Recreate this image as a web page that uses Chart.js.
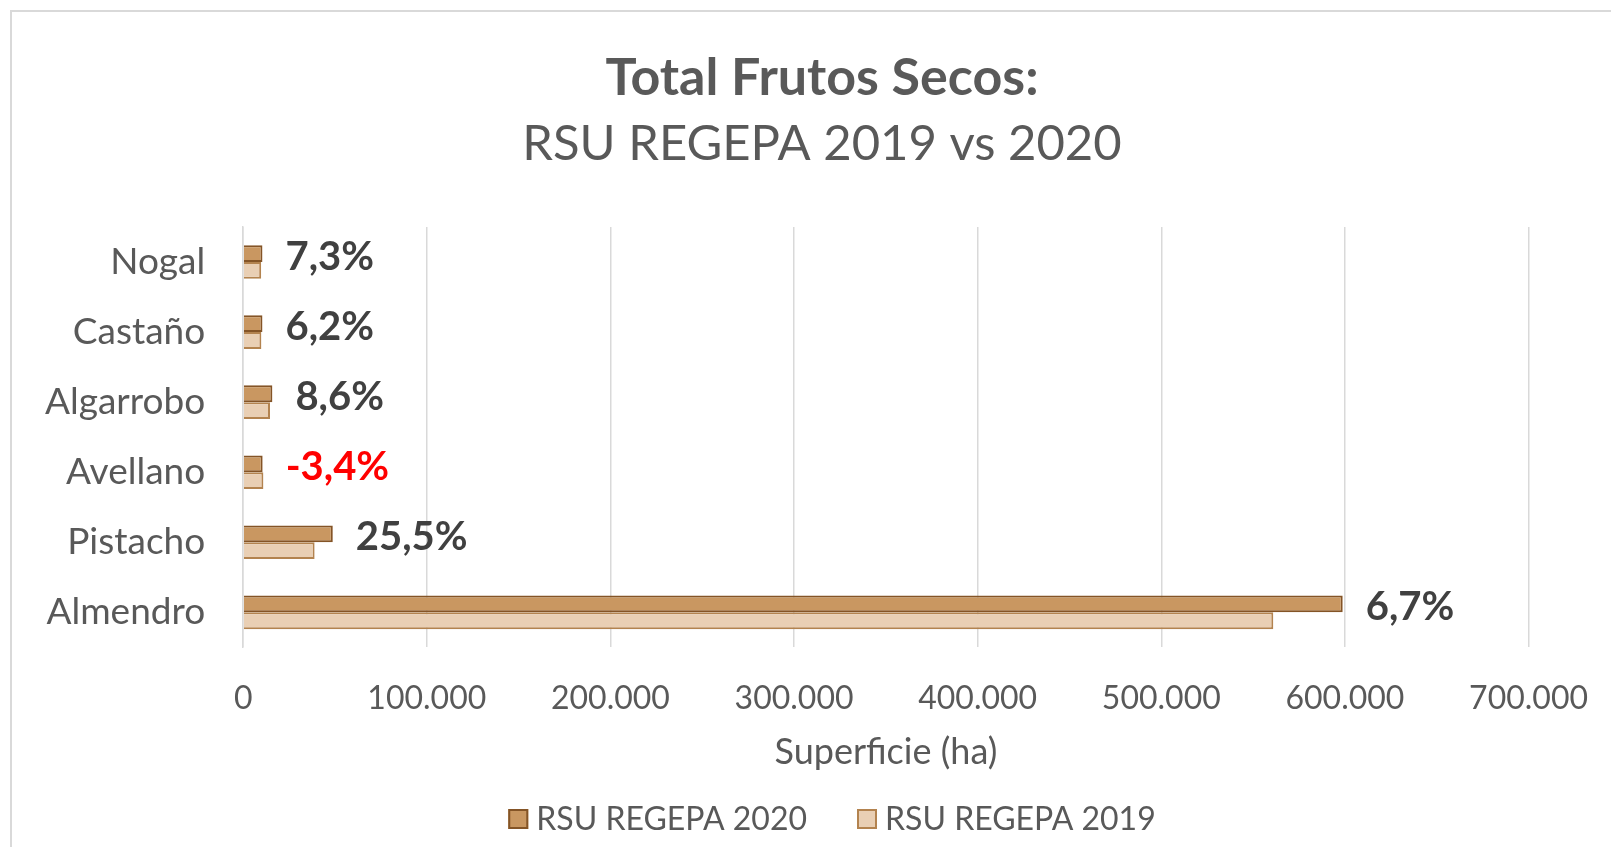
<!DOCTYPE html>
<html>
<head>
<meta charset="utf-8">
<script src="https://cdn.jsdelivr.net/npm/chart.js@4.4.0/dist/chart.umd.min.js"></script>
<style>
    body { margin: 0; background: #ffffff; overflow: hidden; }
    #wrap { position: relative; width: 1611px; height: 847px; }
    #frame { position: absolute; left: 10px; top: 10px; width: 1700px; height: 900px; border: 2px solid #d9d9d9; }
    #chart { position: absolute; left: 0; top: 0; }
</style>
</head>
<body>
<div id="wrap">
    <div id="frame"></div>
    <canvas id="chart" width="1611" height="847"></canvas>
</div>
<script>
// Données
const categories = ['Nogal', 'Castaño', 'Algarrobo', 'Avellano', 'Pistacho', 'Almendro'];
const regepa2020 = [10500, 10500, 15900, 10600, 48800, 598800];
const regepa2019 = [9800, 9900, 14600, 11000, 38900, 561000];
const variationLabels = ['7,3%', '6,2%', '8,6%', '-3,4%', '25,5%', '6,7%'];
const xTicks = [0, 100000, 200000, 300000, 400000, 500000, 600000, 700000];

const titleText = 'Total Frutos Secos:';
const subtitleText = 'RSU REGEPA 2019 vs 2020';

const grey = '#595959';
const fontFamily = 'Lato, "Open Sans", sans-serif';

// Le graphique Excel est plus large que la capture : titre et légende centrés à droite du centre
const titleCenterX = 822;
const legendCenterX = 832;

// Format 100.000 (séparateur de milliers en point)
function formatThousands(v) {
    return String(v).replace(/\B(?=(\d{3})+(?!\d))/g, '.');
}

// Étiquettes de variation à droite des barres 2020
const variationPlugin = {
    id: 'variationLabels',
    afterDatasetsDraw(chart) {
        const ctx = chart.ctx;
        const meta = chart.getDatasetMeta(0);
        ctx.save();
        ctx.font = 'bold 40px ' + fontFamily;
        ctx.textAlign = 'left';
        ctx.textBaseline = 'middle';
        meta.data.forEach((bar, i) => {
            const label = variationLabels[i];
            ctx.fillStyle = label.startsWith('-') ? '#ff0000' : '#404040';
            ctx.fillText(label, bar.x + 23, bar.y + 3);
        });
        ctx.restore();
    }
};

// Titre et légende centrés sur le cadre complet du graphique
const frameTextPlugin = {
    id: 'frameText',
    afterDraw(chart) {
        const ctx = chart.ctx;
        ctx.save();
        ctx.fillStyle = grey;
        ctx.textAlign = 'center';
        ctx.textBaseline = 'middle';
        ctx.font = 'bold 52px ' + fontFamily;
        ctx.fillText(titleText, titleCenterX, 78);
        ctx.font = '49px ' + fontFamily;
        ctx.fillText(subtitleText, titleCenterX, 144);

        // Légende
        const box = 20, gap = 8, spacing = 50, legendY = 819;
        ctx.font = '32px ' + fontFamily;
        const items = chart.data.datasets.map(ds => ({
            ds: ds,
            w: box + gap + ctx.measureText(ds.label).width
        }));
        const total = items.reduce((s, it) => s + it.w, 0) + spacing * (items.length - 1);
        let x = legendCenterX - total / 2;
        ctx.textAlign = 'left';
        items.forEach(it => {
            ctx.fillStyle = it.ds.backgroundColor;
            ctx.fillRect(x, legendY - box / 2, box, box);
            ctx.strokeStyle = it.ds.borderColor;
            ctx.lineWidth = 2;
            ctx.strokeRect(x + 1, legendY - box / 2 + 1, box - 2, box - 2);
            ctx.fillStyle = grey;
            ctx.fillText(it.ds.label, x + box + gap, legendY + 1);
            x += it.w + spacing;
        });
        ctx.restore();
    }
};

document.addEventListener('DOMContentLoaded', function() {
    const ctx = document.getElementById('chart');
    new Chart(ctx, {
        type: 'bar',
        data: {
            labels: categories,
            datasets: [{
                label: 'RSU REGEPA 2020',
                data: regepa2020,
                backgroundColor: '#c99761',
                borderColor: '#845426',
                borderWidth: 2
            }, {
                label: 'RSU REGEPA 2019',
                data: regepa2019,
                backgroundColor: '#e9cfb4',
                borderColor: '#b3834f',
                borderWidth: 2
            }]
        },
        options: {
            indexAxis: 'y',
            responsive: false,
            animation: false,
            layout: { padding: { left: 7, right: 60, top: 227, bottom: 73 } },
            datasets: {
                bar: { categoryPercentage: 0.48, barPercentage: 1.0 }
            },
            scales: {
                x: {
                    min: 0,
                    max: 700000,
                    afterBuildTicks: axis => { axis.ticks = xTicks.map(v => ({ value: v })); },
                    grid: { color: '#d9d9d9', lineWidth: 1.5, drawTicks: true, tickLength: 9, tickColor: 'rgba(0,0,0,0)' },
                    border: { display: false },
                    ticks: {
                        color: grey,
                        padding: 23,
                        font: { family: fontFamily, size: 32 },
                        callback: value => formatThousands(value)
                    },
                    title: {
                        display: true,
                        text: 'Superficie (ha)',
                        color: grey,
                        font: { family: fontFamily, size: 36 },
                        padding: { top: -10, bottom: 0 }
                    }
                },
                y: {
                    grid: { display: false, drawTicks: false },
                    border: { display: true, color: '#d9d9d9', width: 1.5 },
                    ticks: {
                        color: grey,
                        padding: 38,
                        font: { family: fontFamily, size: 37 }
                    }
                }
            },
            plugins: {
                title: { display: false },
                subtitle: { display: false },
                legend: { display: false },
                tooltip: { enabled: false }
            }
        },
        plugins: [variationPlugin, frameTextPlugin]
    });
});
</script>
</body>
</html>
